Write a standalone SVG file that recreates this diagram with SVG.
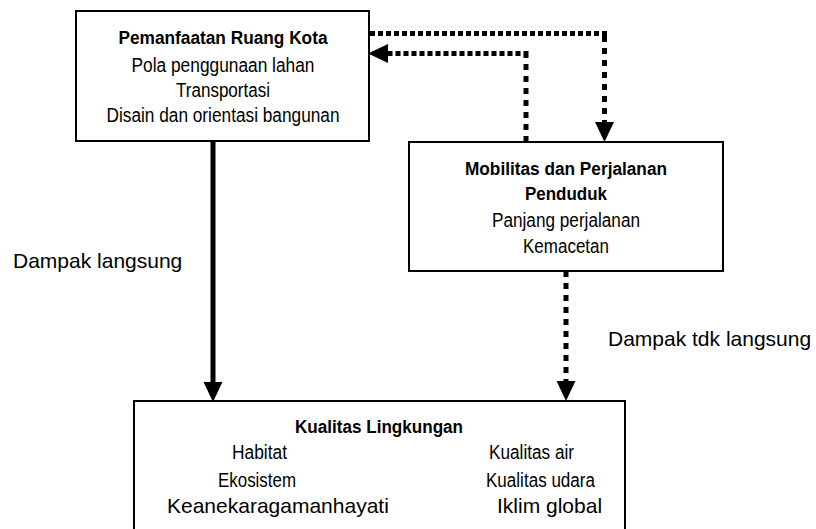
<svg xmlns="http://www.w3.org/2000/svg" width="816" height="529" viewBox="0 0 816 529">
<style>
  .box { fill: #fff; stroke: #000; stroke-width: 2; }
  text { font-family: "Liberation Sans", Arial, sans-serif; fill: #000; }
  .t { font-weight: bold; font-size: 18px; text-anchor: middle; }
  .n { font-size: 20px; }
  .c { text-anchor: middle; }
  .big { font-size: 21px; }
  .solid { fill: none; stroke: #000; stroke-width: 5; }
  .dh { fill: none; stroke: #000; stroke-width: 5; stroke-dasharray: 5 3; }
  .dv { fill: none; stroke: #000; stroke-width: 5; stroke-dasharray: 6 6; }
</style>
<defs>
  <marker id="ah" markerUnits="userSpaceOnUse" markerWidth="20" markerHeight="20" refX="0" refY="9" orient="auto" viewBox="0 0 19 18">
    <path d="M0,0 L19,9 L0,18 z" fill="#000"/>
  </marker>
</defs>
<rect width="816" height="529" fill="#fff"/>

<g id="connectors">
  <g id="c-direct">
    <path class="solid" d="M213,141 V382" marker-end="url(#ah)"/>
  </g>
  <g id="c-ruang-to-mobilitas">
    <path class="dh" d="M370,33.5 H607"/>
    <path class="dv" d="M604.5,36 V122" marker-end="url(#ah)"/>
  </g>
  <g id="c-mobilitas-to-ruang">
    <path class="dv" d="M526,142 V56"/>
    <path class="dh" d="M528.5,53.5 H388" marker-end="url(#ah)"/>
  </g>
  <g id="c-indirect">
    <path class="dv" d="M566,271 V381" marker-end="url(#ah)"/>
  </g>
</g>

<g id="node-ruang">
  <rect class="box" x="76" y="11" width="293" height="130"/>
  <text class="t" x="223" y="44" textLength="209" lengthAdjust="spacingAndGlyphs">Pemanfaatan Ruang Kota</text>
  <text class="n c" x="223" y="72" textLength="183" lengthAdjust="spacingAndGlyphs">Pola penggunaan lahan</text>
  <text class="n c" x="223" y="97" textLength="94" lengthAdjust="spacingAndGlyphs">Transportasi</text>
  <text class="n c" x="223" y="122" textLength="233" lengthAdjust="spacingAndGlyphs">Disain dan orientasi bangunan</text>
</g>

<g id="node-mobilitas">
  <rect class="box" x="409" y="142" width="314" height="129"/>
  <text class="t" x="566" y="175" textLength="202" lengthAdjust="spacingAndGlyphs">Mobilitas dan Perjalanan</text>
  <text class="t" x="566" y="200" textLength="82" lengthAdjust="spacingAndGlyphs">Penduduk</text>
  <text class="n c" x="566" y="227" textLength="148" lengthAdjust="spacingAndGlyphs">Panjang perjalanan</text>
  <text class="n c" x="566" y="253" textLength="86" lengthAdjust="spacingAndGlyphs">Kemacetan</text>
</g>

<g id="node-lingkungan">
  <rect class="box" x="134" y="401" width="491" height="140"/>
  <text class="t" x="379" y="433" textLength="168" lengthAdjust="spacingAndGlyphs">Kualitas Lingkungan</text>
  <text class="n" x="232" y="459" textLength="55" lengthAdjust="spacingAndGlyphs">Habitat</text>
  <text class="n" x="218" y="487" textLength="78" lengthAdjust="spacingAndGlyphs">Ekosistem</text>
  <text class="big" x="167" y="513">Keanekaragamanhayati</text>
  <text class="n" x="489" y="459" textLength="85" lengthAdjust="spacingAndGlyphs">Kualitas air</text>
  <text class="n" x="486" y="487" textLength="109" lengthAdjust="spacingAndGlyphs">Kualitas udara</text>
  <text class="big" x="497" y="513">Iklim global</text>
</g>

<g id="labels">
  <text class="big" x="13" y="268">Dampak langsung</text>
  <text class="big" x="608" y="346">Dampak tdk langsung</text>
</g>
</svg>
